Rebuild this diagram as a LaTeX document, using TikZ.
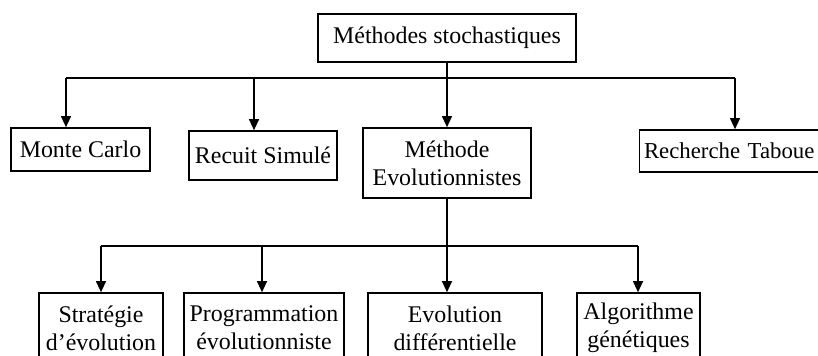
\documentclass[tikz,border=0pt]{standalone}
\usepackage{fontspec}
\setmainfont{Liberation Serif}
\usetikzlibrary{arrows.meta}

\begin{document}
\begin{tikzpicture}[
        every node/.style={font=\fontsize{17}{20}\selectfont},
        box/.style={
          draw=black, line width=1pt, fill=white,
          inner sep=2pt, align=center,
        },
        link/.style={draw=black, line width=1.4pt},
        arr/.style={-{Triangle[width=7pt,length=8pt]}, draw=black, line width=1.4pt},
      ]
      \clip (0,0) rectangle (20.45,8.9);
      \fill[white] (0,0) rectangle (20.45,8.9);

      % first level
      \node[box, minimum width=6.45cm, minimum height=1.2cm]   (ms) at (11.175,7.95)  {Méthodes stochastiques};
      \node[box, minimum width=3.475cm, minimum height=1.075cm] (mc) at (2.0125,5.1625) {Monte Carlo};
      \node[box, minimum width=3.7cm, minimum height=1.225cm]  (rs) at (6.575,5.0125) {Recuit Simulé};
      \node[box, minimum width=4.2cm, minimum height=1.75cm]   (me) at (11.175,4.825) {Méthode\\Evolutionnistes};
      \node[box, text width=4.55cm, align=left, inner xsep=3pt,
            minimum height=1.05cm, font=\fontsize{16.2}{20}\selectfont] (rt) at (18.375,5.125) {Recherche Taboue};

      % second level
      \node[box, minimum width=3.1cm, minimum height=1.75cm]   (se) at (2.525,0.7)   {Stratégie\\d’évolution};
      \node[box, minimum width=4.0cm, minimum height=1.75cm]   (pe) at (6.6,0.7)     {Programmation\\évolutionniste};
      \node[box, minimum width=4.35cm, minimum height=1.75cm]  (ed) at (11.375,0.7)  {Evolution\\différentielle};
      \node[box, minimum width=3.075cm, minimum height=1.75cm] (ag) at (15.9625,0.7) {Algorithme\\génétiques};

      \coordinate (j1) at (1.65,6.95);
      \coordinate (j2) at (6.35,6.95);
      \coordinate (j4) at (18.375,6.95);
      \coordinate (k1) at (2.525,2.75);
      \coordinate (k2) at (6.55,2.75);
      \coordinate (k4) at (15.95,2.75);

      \draw[link] (j1) -- (j4);
      \draw[arr] (ms.south) -- (me.north);
      \draw[arr] (j1) -- (mc.north -| j1);
      \draw[arr] (j2) -- (rs.north -| j2);
      \draw[arr] (j4) -- (rt.north -| j4);

      \draw[link] (k1) -- (k4);
      \draw[arr] (me.south) -- (ed.north -| me.south);
      \draw[arr] (k1) -- (se.north -| k1);
      \draw[arr] (k2) -- (pe.north -| k2);
      \draw[arr] (k4) -- (ag.north -| k4);
    \end{tikzpicture}
\end{document}
